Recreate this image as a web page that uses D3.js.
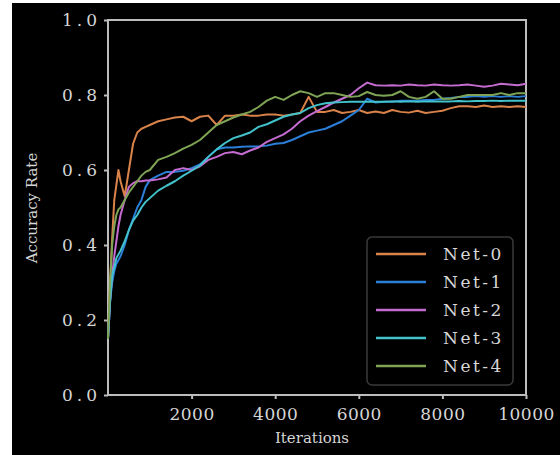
<!DOCTYPE html>
<html><head><meta charset="utf-8">
<script src="https://cdn.jsdelivr.net/npm/d3@7"></script>
<style>html,body{margin:0;padding:0;background:#fff;}svg{display:block;}</style>
</head><body>
<script>
const iterations = [0,50,100,150,200,250,300,400,500,600,700,800,900,1000,
 1200,1400,1600,1800,2000,2200,2400,2600,2800,3000,3200,3400,3600,3800,4000,
 4200,4400,4600,4800,5000,5200,5400,5600,5800,6000,6200,6400,6600,6800,7000,
 7200,7400,7600,7800,8000,8200,8400,8600,8800,9000,9200,9400,9600,9800,10000];

const net0 = [0.15,0.30,0.42,0.52,0.56,0.60,0.57,0.53,0.60,0.67,0.70,0.71,0.715,0.72,
 0.73,0.735,0.74,0.742,0.73,0.742,0.745,0.72,0.745,0.745,0.748,0.745,0.745,0.748,0.748,
 0.745,0.748,0.752,0.795,0.755,0.755,0.76,0.752,0.755,0.76,0.752,0.756,0.752,0.76,0.755,
 0.753,0.758,0.752,0.755,0.758,0.765,0.77,0.77,0.768,0.772,0.768,0.77,0.768,0.77,0.768];

const net1 = [0.15,0.25,0.30,0.33,0.35,0.36,0.37,0.40,0.44,0.47,0.50,0.52,0.555,0.573,
 0.585,0.595,0.595,0.598,0.605,0.615,0.635,0.655,0.66,0.66,0.662,0.663,0.663,0.665,0.67,
 0.672,0.68,0.69,0.70,0.705,0.71,0.72,0.73,0.745,0.76,0.79,0.78,0.782,0.782,0.785,
 0.785,0.785,0.787,0.787,0.79,0.792,0.795,0.795,0.797,0.795,0.797,0.795,0.797,0.795,0.797];

const net2 = [0.15,0.25,0.32,0.37,0.41,0.45,0.48,0.52,0.555,0.565,0.57,0.57,0.572,0.572,
 0.575,0.58,0.60,0.605,0.60,0.61,0.627,0.635,0.645,0.648,0.642,0.652,0.66,0.675,0.685,
 0.695,0.71,0.73,0.745,0.757,0.768,0.78,0.79,0.80,0.818,0.833,0.826,0.825,0.826,0.825,
 0.828,0.826,0.825,0.828,0.826,0.825,0.826,0.828,0.825,0.822,0.825,0.83,0.828,0.826,0.83];

const net3 = [0.15,0.25,0.32,0.34,0.365,0.375,0.385,0.41,0.44,0.465,0.48,0.50,0.515,0.525,
 0.545,0.558,0.57,0.585,0.598,0.612,0.635,0.655,0.672,0.685,0.692,0.70,0.715,0.722,0.732,
 0.742,0.748,0.752,0.765,0.773,0.778,0.78,0.781,0.782,0.782,0.782,0.782,0.782,0.783,0.782,
 0.783,0.782,0.783,0.783,0.783,0.783,0.784,0.783,0.784,0.784,0.785,0.784,0.785,0.785,0.785];

const net4 = [0.15,0.30,0.40,0.45,0.48,0.495,0.50,0.52,0.54,0.555,0.57,0.585,0.595,0.60,
 0.627,0.635,0.645,0.657,0.667,0.68,0.70,0.72,0.73,0.74,0.748,0.755,0.768,0.785,0.795,
 0.787,0.80,0.81,0.805,0.795,0.805,0.805,0.80,0.795,0.797,0.808,0.80,0.798,0.80,0.81,
 0.795,0.79,0.795,0.81,0.79,0.79,0.795,0.80,0.80,0.80,0.80,0.805,0.80,0.805,0.805];

const seriesNames = ["Net-0","Net-1","Net-2","Net-3","Net-4"];
const seriesColors = ["#d9824a","#2b7fd8","#c46ccf","#42c3cc","#7fa456"];
const xTicks = [2000,4000,6000,8000,10000];
const yTicks = [0,0.2,0.4,0.6,0.8,1.0];

const W = 560, H = 455;
const svg = d3.select("body").append("svg").attr("width", W).attr("height", H);
svg.append("rect").attr("width", W).attr("height", H).attr("fill", "#fff");
svg.append("rect").attr("x", 12).attr("y", 3).attr("width", W - 12).attr("height", H - 3).attr("fill", "#000");

const L = 108, R = 526, T = 20, B = 395;
const x = d3.scaleLinear().domain([0, 10000]).range([L, R]);
const y = d3.scaleLinear().domain([0, 1]).range([B, T]);

const axisColor = "#bdbdbd", textColor = "#d6d6d6";
const serif = "'DejaVu Serif', 'Liberation Serif', serif";

// frame
svg.append("rect").attr("x", L).attr("y", T).attr("width", R - L).attr("height", B - T)
  .attr("fill", "none").attr("stroke", axisColor).attr("stroke-width", 2);

const gx = svg.append("g").attr("transform", `translate(0,${B})`)
  .call(d3.axisBottom(x).tickValues(xTicks).tickSize(4).tickFormat(d3.format("d")));
const gy = svg.append("g").attr("transform", `translate(${L},0)`)
  .call(d3.axisLeft(y).tickValues(yTicks).tickSize(4).tickFormat(d3.format(".1f")));
[gx, gy].forEach(g => {
  g.select(".domain").remove();
  g.selectAll(".tick line").attr("stroke", axisColor).attr("stroke-width", 2);
  g.selectAll(".tick text").attr("fill", textColor).style("font-family", serif).style("font-size", "17px");
});
gx.selectAll(".tick text").attr("dy", "1.05em").style("letter-spacing", "0.5px");
gy.selectAll(".tick text").attr("x", -7).style("letter-spacing", "4px");

svg.append("text").attr("x", 312).attr("y", 443).attr("text-anchor", "middle")
  .attr("fill", textColor).style("font-family", serif).style("font-size", "15px").text("Iterations");
svg.append("text").attr("transform", "translate(37,208) rotate(-90)").attr("text-anchor", "middle")
  .attr("fill", textColor).style("font-family", serif).style("font-size", "15px").text("Accuracy Rate");

const allSeries = [net0, net1, net2, net3, net4];
const line = d3.line().x((d, i) => x(iterations[i])).y(d => y(d));
const plot = svg.append("g");
allSeries.forEach((vals, k) => {
  plot.append("path").datum(vals).attr("d", line).attr("fill", "none")
    .attr("stroke", seriesColors[k]).attr("stroke-width", 2).attr("stroke-linejoin", "round");
});

// legend
const lg = svg.append("g");
lg.append("rect").attr("x", 367).attr("y", 237).attr("width", 146).attr("height", 148).attr("rx", 5)
  .attr("fill", "#000").attr("stroke", "#3a3a3a").attr("stroke-width", 1.5);
seriesNames.forEach((n, k) => {
  const yy = 254 + k * 28;
  lg.append("line").attr("x1", 376).attr("x2", 426).attr("y1", yy).attr("y2", yy)
    .attr("stroke", seriesColors[k]).attr("stroke-width", 2.5);
  lg.append("text").attr("x", 443).attr("y", yy).attr("dy", "0.36em").attr("fill", textColor)
    .style("font-family", serif).style("font-size", "17px").style("letter-spacing", "2.5px").text(n);
});
</script>
</body></html>
